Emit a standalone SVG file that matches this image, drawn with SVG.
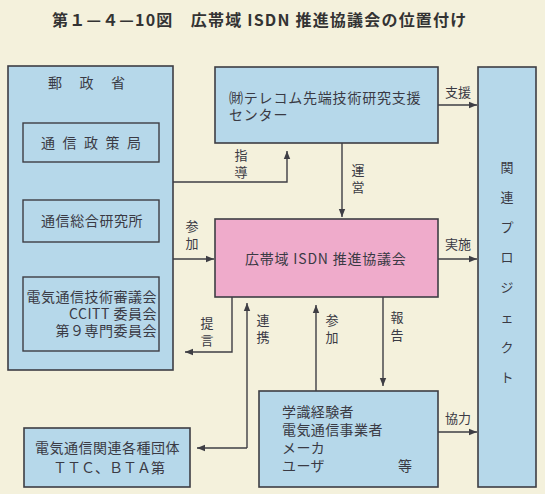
<svg xmlns="http://www.w3.org/2000/svg" width="545" height="494" viewBox="0 0 545 494">
<style>
text{font-family:"Noto Sans CJK JP","Liberation Serif",serif;fill:#3a3a44;font-size:13px}
.t{font-weight:bold;font-size:16px;fill:#333;letter-spacing:1.2px}
.b{font-size:14px}
.box{fill:#b6d8ea;stroke:#3e3e44;stroke-width:1.6}
.inner{fill:#b6d8ea;stroke:#3e3e44;stroke-width:1.4}
.pink{fill:#efabcb;stroke:#3e3e44;stroke-width:1.6}
.c{fill:none;stroke:#3e3e44;stroke-width:1.4}
.m{text-anchor:middle}
</style>
<defs>
<marker id="ah" viewBox="0 0 10 10" refX="10" refY="5" markerWidth="8" markerHeight="8" markerUnits="userSpaceOnUse" orient="auto">
<path d="M0,1 L10,5 L0,9 Z" fill="#3e3e44"/>
</marker>
</defs>
<rect width="545" height="494" fill="#f4f1dc"/>
<text class="t" x="52" y="26">第１—４—10図　広帯域 ISDN 推進協議会の位置付け</text>

<g id="ministry">
<rect class="box" x="8" y="66" width="165" height="304"/>
<text class="b" x="48" y="88" letter-spacing="17.5">郵政省</text>
<g id="policy"><rect class="inner" x="23" y="123" width="136" height="39"/>
<text class="b" x="41" y="148" letter-spacing="7.5">通信政策局</text></g>
<g id="crl"><rect class="inner" x="23" y="200" width="136" height="42"/>
<text class="b" x="41" y="226" letter-spacing="0.6">通信総合研究所</text></g>
<g id="council9"><rect class="inner" x="23" y="277" width="136" height="74"/>
<text class="b" x="157" y="302" text-anchor="end" letter-spacing="0.5">電気通信技術審議会</text>
<text class="b" x="157" y="319" text-anchor="end" letter-spacing="0.5">CCITT 委員会</text>
<text class="b" x="157" y="336" text-anchor="end" letter-spacing="0.5">第９専門委員会</text></g>
</g>

<g id="telecom">
<rect class="box" x="215" y="67" width="223" height="76"/>
<text class="b" x="229" y="103" letter-spacing="0.8">㈶テレコム先端技術研究支援</text>
<text class="b" x="229" y="120" letter-spacing="0.8">センター</text>
</g>

<g id="council">
<rect class="pink" x="215" y="219" width="223" height="78"/>
<text class="b" x="245" y="264" letter-spacing="0.8">広帯域 ISDN 推進協議会</text>
</g>

<g id="project">
<rect class="box" x="478" y="67" width="58" height="420"/>
<text class="m" x="507" y="172">関</text>
<text class="m" x="507" y="202">連</text>
<text class="m" x="507" y="232">プ</text>
<text class="m" x="507" y="262">ロ</text>
<text class="m" x="507" y="292">ジ</text>
<text class="m" x="507" y="322">ェ</text>
<text class="m" x="507" y="352">ク</text>
<text class="m" x="507" y="382">ト</text>
</g>

<g id="experts">
<rect class="box" x="259" y="391" width="179" height="96"/>
<text class="b" x="282" y="417" letter-spacing="0.4">学識経験者</text>
<text class="b" x="282" y="435" letter-spacing="0.4">電気通信事業者</text>
<text class="b" x="282" y="453" letter-spacing="0.4">メーカ</text>
<text class="b" x="282" y="471" letter-spacing="0.4">ユーザ</text>
<text class="b" x="398" y="471">等</text>
</g>

<g id="groups">
<rect class="box" x="24" y="428" width="166" height="59"/>
<text class="b" x="35" y="453" letter-spacing="0.5">電気通信関連各種団体</text>
<text class="b" x="53" y="473">ＴＴＣ、ＢＴＡ第</text>
</g>

<g id="connectors">
<path class="c" d="M173,182 H287 V151" marker-end="url(#ah)"/>
<path class="c" d="M342,143 V217" marker-end="url(#ah)"/>
<path class="c" d="M173,259 H214" marker-end="url(#ah)"/>
<path class="c" d="M232,297 V352 H185" marker-end="url(#ah)"/>
<path class="c" d="M247,448 V303" marker-end="url(#ah)"/>
<path class="c" d="M247,448 H197" marker-end="url(#ah)"/>
<path class="c" d="M316,391 V305" marker-end="url(#ah)"/>
<path class="c" d="M383,297 V386" marker-end="url(#ah)"/>
<path class="c" d="M438,105 H477" marker-end="url(#ah)"/>
<path class="c" d="M438,259 H477" marker-end="url(#ah)"/>
<path class="c" d="M438,432 H477" marker-end="url(#ah)"/>
<text class="m" x="241" y="160">指</text>
<text class="m" x="241" y="177">導</text>
<text class="m" x="358" y="175">運</text>
<text class="m" x="358" y="192">営</text>
<text class="m" x="192" y="231">参</text>
<text class="m" x="192" y="248">加</text>
<text class="m" x="207" y="328">提</text>
<text class="m" x="207" y="345">言</text>
<text class="m" x="263" y="325">連</text>
<text class="m" x="263" y="342">携</text>
<text class="m" x="332" y="325">参</text>
<text class="m" x="332" y="342">加</text>
<text class="m" x="397" y="322">報</text>
<text class="m" x="397" y="340">告</text>
<text class="m" x="458" y="97">支援</text>
<text class="m" x="458" y="249">実施</text>
<text class="m" x="458" y="423">協力</text>
</g>
</svg>
